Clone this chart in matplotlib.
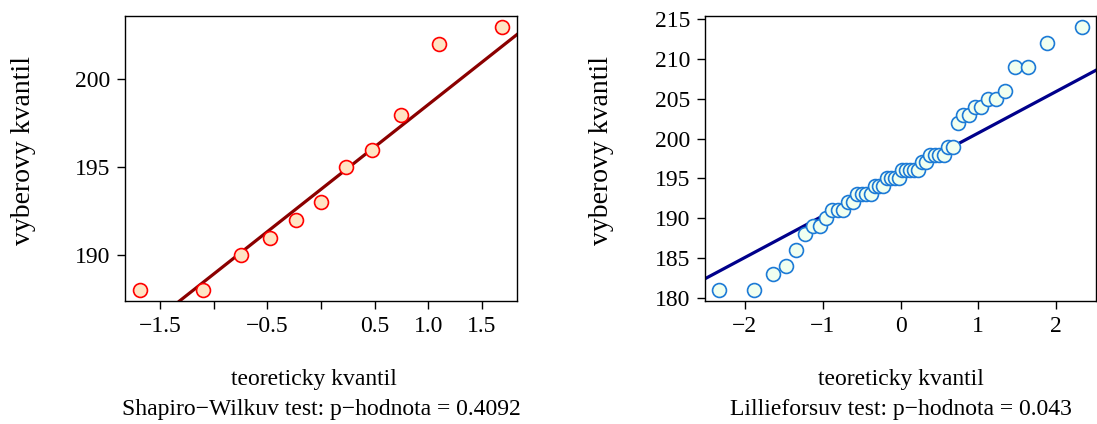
import matplotlib
matplotlib.use('Agg')
import matplotlib.pyplot as plt
import numpy as np
from statistics import NormalDist

plt.rcParams['font.family'] = ['Liberation Serif', 'DejaVu Serif']
plt.rcParams['font.size'] = 17

############      Data     ################
# vyska - maly vyber (Shapiro-Wilk)
vyber_sw = [188, 188, 190, 191, 192, 193, 195, 196, 198, 202, 203]
p_sw = 0.4092

# vyska - velky vyber (Lilliefors)
vyber_lf = [181, 181, 183, 184, 186, 188, 189, 189, 190, 191,
            191, 191, 192, 192, 193, 193, 193, 193, 194, 194,
            194, 195, 195, 195, 195, 196, 196, 196, 196, 196,
            197, 197, 198, 198, 198, 198, 199, 199, 202, 203,
            203, 204, 204, 205, 205, 206, 209, 209, 212, 214]
p_lf = 0.043

ticks_sw_x = [-1.5, -1.0, -0.5, 0.0, 0.5, 1.0, 1.5]
labels_sw_x = ['\u22121.5', '', '\u22120.5', '', '0.5', '1.0', '1.5']
ticks_sw_y = [190, 195, 200]
ticks_lf_x = [-2, -1, 0, 1, 2]
labels_lf_x = ['\u22122', '\u22121', '0', '1', '2']
ticks_lf_y = [180, 185, 190, 195, 200, 205, 210, 215]

nd = NormalDist()


def teor_kvantily(n):
    # stejne jako ppoints() v R
    a = 3 / 8 if n <= 10 else 0.5
    return np.array([nd.inv_cdf((i - a) / (n + 1 - 2 * a)) for i in range(1, n + 1)])


def qq_graf(ax, y, edge, face, line_col, xticks, xlabels, yticks):
    y = np.sort(np.array(y, dtype=float))
    x = teor_kvantily(len(y))
    ax.plot(x, y, 'o', ms=10, mfc=face, mec=edge, mew=1.2, zorder=3)

    # qqline - primka pres kvartily
    q1, q3 = np.percentile(y, [25, 75])
    z1, z3 = nd.inv_cdf(0.25), nd.inv_cdf(0.75)
    slope = (q3 - q1) / (z3 - z1)
    inter = q1 - slope * z1
    ax.axline((0, inter), slope=slope, color=line_col, lw=2.3, zorder=2)

    dx = (x.max() - x.min()) * 0.04
    dy = (y.max() - y.min()) * 0.04
    ax.set_xlim(x.min() - dx, x.max() + dx)
    ax.set_ylim(y.min() - dy, y.max() + dy)
    ax.set_xticks(xticks)
    ax.set_xticklabels(xlabels)
    ax.set_yticks(yticks)
    ax.tick_params(direction='out', length=5.5, width=1, pad=5)
    for s in ax.spines.values():
        s.set_linewidth(1)


fig = plt.figure(figsize=(10.97, 4.24), dpi=100)
ax1 = fig.add_axes([125 / 1097, 123 / 424, 392 / 1097, 285 / 424])
ax2 = fig.add_axes([705 / 1097, 123 / 424, 391 / 1097, 285 / 424])

qq_graf(ax1, vyber_sw, '#FF0000', '#FFE4C4', '#8B0000',
        ticks_sw_x, labels_sw_x, ticks_sw_y)
qq_graf(ax2, vyber_lf, '#1C7AD6', '#F0FFF0', '#00008B',
        ticks_lf_x, labels_lf_x, ticks_lf_y)

# popisky os a vysledky testu
fig.text(24 / 1097, 0.645, 'vyberovy kvantil', rotation=90, ha='center', va='center', fontsize=20)
fig.text(602 / 1097, 0.645, 'vyberovy kvantil', rotation=90, ha='center', va='center', fontsize=20)
fig.text(314 / 1097, 44 / 424, 'teoreticky kvantil', ha='center', va='center')
fig.text(901 / 1097, 44 / 424, 'teoreticky kvantil', ha='center', va='center')
fig.text(321 / 1097, 14 / 424,
         'Shapiro\u2212Wilkuv test: p\u2212hodnota = ' + str(p_sw), ha='center', va='center')
fig.text(901 / 1097, 14 / 424,
         'Lillieforsuv test: p\u2212hodnota = ' + str(p_lf), ha='center', va='center')

fig.savefig('out.png', dpi=100)
